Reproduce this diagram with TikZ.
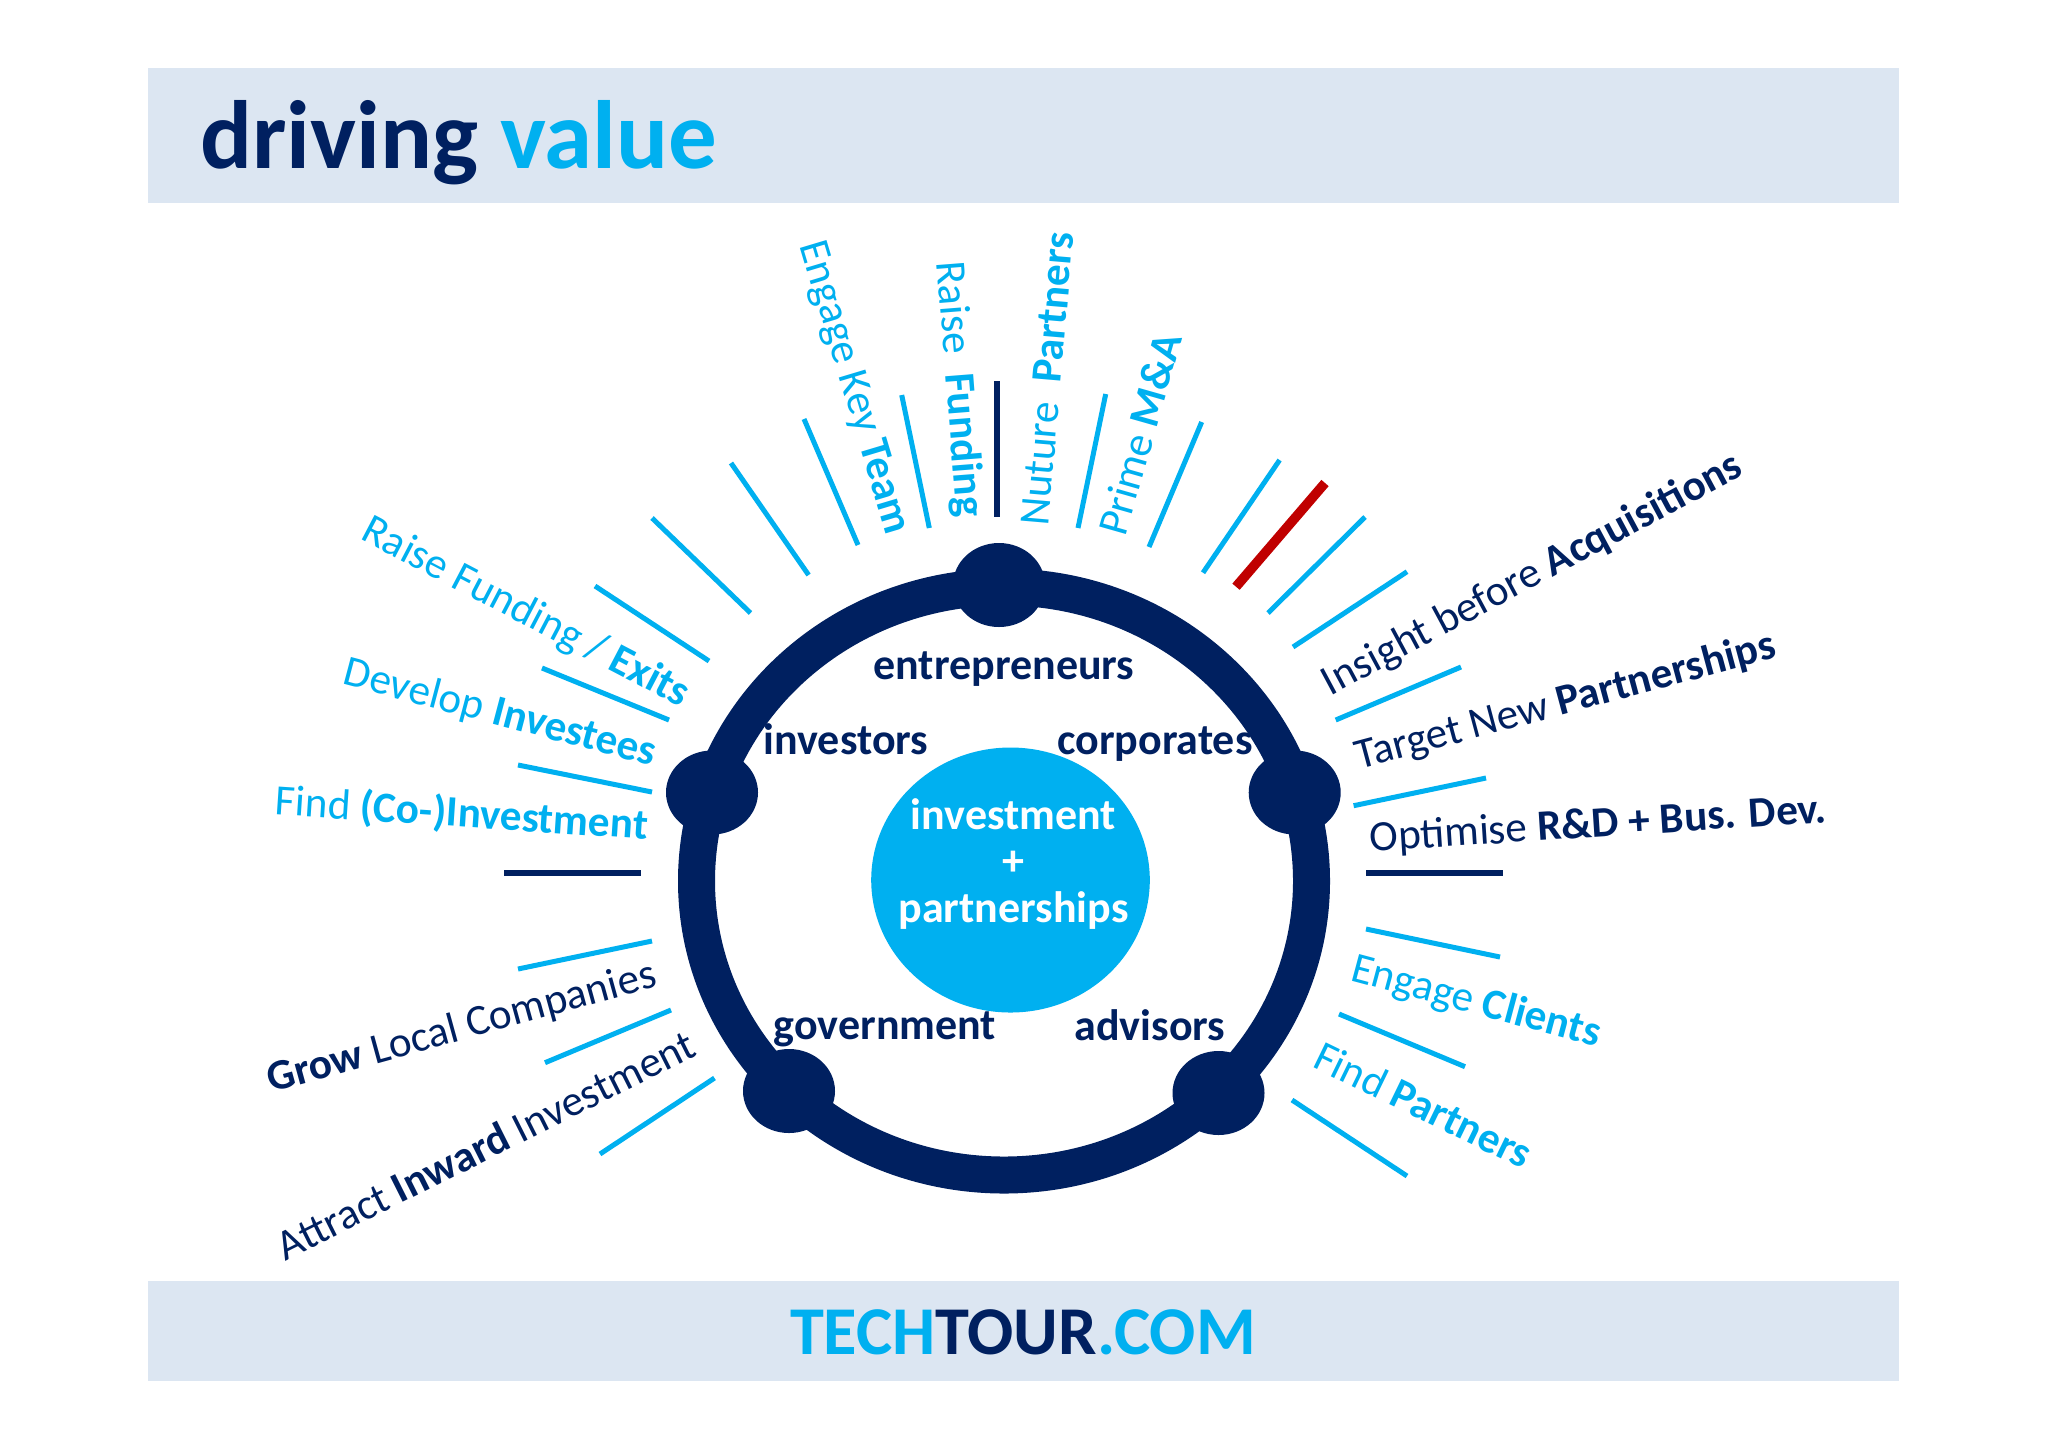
\documentclass[tikz,border=0pt]{standalone}
\usepackage{fontspec}
\setmainfont{Carlito}
\usetikzlibrary{shapes.geometric}
\definecolor{navy}{HTML}{002060}
\definecolor{sky}{HTML}{00B0F0}
\definecolor{bandc}{HTML}{DCE6F2}
\definecolor{redc}{HTML}{C00000}
\newcommand{\fs}[1]{\fontsize{#1}{#1}\selectfont}
\tikzset{
  band/.style={fill=bandc,draw=none},
  ray/.style={draw=sky,line width=2.5pt},
  navyray/.style={draw=navy,line width=3pt},
  redray/.style={draw=redc,line width=4.8pt},
  hub/.style={ellipse,fill=navy,draw=none,inner sep=0pt,minimum width=46pt,minimum height=42pt},
  lab/.style={anchor=base,inner sep=0pt,font=\fs{21.6}},
  labsky/.style={lab,text=sky},
  labnavy/.style={lab,text=navy},
  inner/.style={anchor=base,inner sep=0pt,text=navy,font=\fs{22}\bfseries},
  centre/.style={anchor=base,inner sep=0pt,text=white,font=\fs{22}\bfseries}
}
\begin{document}
\begin{tikzpicture}[x=0.5pt,y=-0.5pt]
\useasboundingbox (0,0) rectangle (2048,1448);
\fill[white] (0,0) rectangle (2048,1448);
% bands
\path[band] (148,68) rectangle (1899,203);
\path[band] (148,1281) rectangle (1899,1381);
\node[anchor=base west,inner sep=0pt,font=\fs{48.5}\bfseries,text=navy] (title) at (200,168) {driving \textcolor{sky}{value}};
\node[anchor=base,inner sep=0pt,font=\fs{34.2}\bfseries,text=sky] (foot) at (1023,1354) {TECH\textcolor{navy}{TOUR}.COM};
% rays
\draw[navyray] (504,873) -- (641,873);
\draw[ray] (518,969) -- (652,941);
\draw[ray] (518,765) -- (652,792);
\draw[ray] (542,668) -- (669,720);
\draw[ray] (595,586) -- (709,661);
\draw[ray] (652,518) -- (750.5,613);
\draw[ray] (731,463) -- (808.6,575);
\draw[ray] (804,419) -- (858,545);
\draw[ray] (901.7,395) -- (929.3,528);
\draw[navyray] (996.7,381) -- (996.7,517);
\draw[ray] (1105.7,394) -- (1078,528);
\draw[ray] (1201.7,422) -- (1149,547);
\draw[ray] (1279.6,460) -- (1203,572.7);
\draw[redray] (1325,483) -- (1236,586.7);
\draw[ray] (1365,517) -- (1268,613);
\draw[ray] (1407,571.7) -- (1293,647);
\draw[ray] (1461,667) -- (1335.7,720);
\draw[ray] (1486,778) -- (1353.6,805.7);
\draw[navyray] (1366,873) -- (1503,873);
\draw[ray] (1366,929) -- (1500,957);
\draw[ray] (1339,1014) -- (1465,1066.7);
\draw[ray] (1292,1100) -- (1407,1176);
\draw[ray] (545,1062.7) -- (671,1010);
\draw[ray] (600,1154) -- (714.5,1078);
% ring
\draw[navy,line width=18.5pt] (1004,881) ellipse [x radius=307.5,y radius=294];
\node[hub] (hubtop) at (999,585) {};
\node[hub] (hubright) at (1294.7,792.5) {};
\node[hub] (hubleft) at (712,792.5) {};
\node[hub] (hubbl) at (789,1091) {};
\node[hub] (hubbr) at (1218.5,1093) {};
% centre
\node[ellipse,fill=sky,draw=none,inner sep=0pt,minimum width=139.3pt,minimum height=132.5pt] (core) at (1010.5,880) {};
\node[centre] (c1) at (1013.5,829) {investment};
\node[centre] (c2) at (1013,875) {+};
\node[centre] (c3) at (1013.5,922) {partnerships};
% inner labels
\node[inner] (i1) at (1004,679) {entrepreneurs};
\node[inner] (i2) at (846,754) {investors};
\node[inner] (i3) at (1155,754) {corporates};
\node[inner] (i4) at (885,1039) {government};
\node[inner] (i5) at (1150,1040) {advisors};
% outer labels
\node[labsky,rotate=-27.6] (l1) at (520,623) {Raise Funding / \textbf{Exits}};
\node[labsky,rotate=-14.8] (l2) at (497,725) {Develop \textbf{Investees}};
\node[labsky,rotate=-3.8] (l3) at (461,827) {Find \textbf{(Co-)Investment}};
\node[labsky,rotate=-73.3] (l4) at (843.5,391) {Engage Key \textbf{Team}};
\node[labsky,rotate=-85.5] (l5) at (947,390) {Raise \textbf{ Funding}};
\node[labsky,rotate=85.1] (l6) at (1061,380) {Nuture \textbf{ Partners}};
\node[labsky,rotate=74.1] (l7) at (1154,438) {Prime \textbf{M\&A}};
\node[labnavy,rotate=28.2] (l8) at (1538,585) {Insight before \textbf{Acquisitions}};
\node[labnavy,rotate=15] (l9) at (1568.5,713.5) {Target New \textbf{Partnerships}};
\node[labnavy,rotate=3.7] (l10) at (1599,837) {Optimise \textbf{R\&D + Bus. Dev.}};
\node[labsky,rotate=-15] (l11) at (1473,1013.5) {Engage \textbf{Clients}};
\node[labsky,rotate=-25.9] (l12) at (1417,1118) {Find \textbf{Partners}};
\node[labnavy,rotate=15.4] (l13) at (465,1039.5) {\textbf{Grow} Local Companies};
\node[labnavy,rotate=26.6] (l14) at (492,1158) {Attract \textbf{Inward} Investment};
\end{tikzpicture}
\end{document}
